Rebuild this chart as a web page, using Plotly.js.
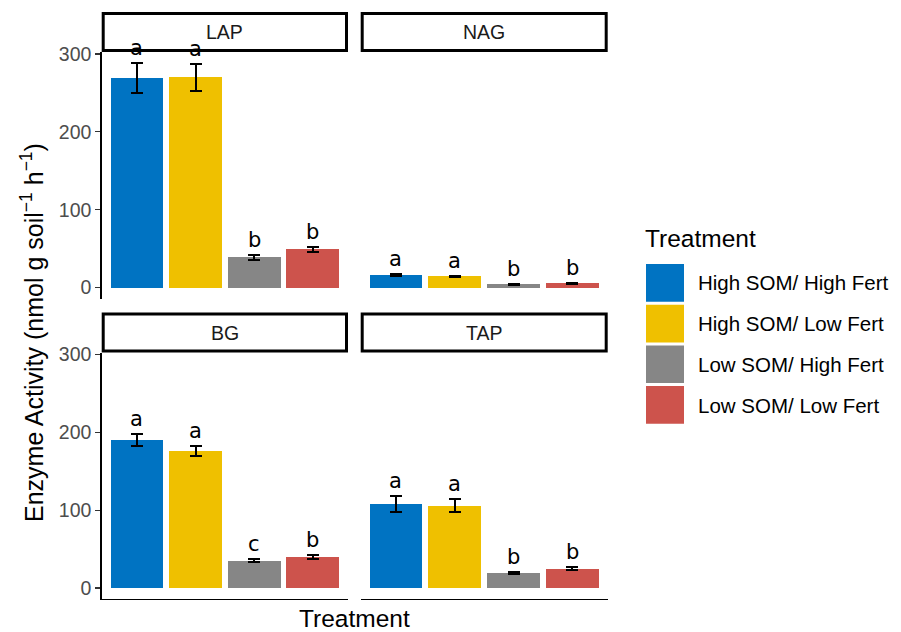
<!DOCTYPE html>
<html>
<head>
<meta charset="utf-8">
<script src="https://cdn.plot.ly/plotly-3.0.1.min.js"></script>
<style>
  html, body { margin: 0; padding: 0; background: #ffffff; }
  #chart { width: 901px; height: 632px; }
</style>
</head>
<body>
<div id="chart"></div>
<script>
// Treatments (bar order inside every facet) and their fill colours
const treatments = ["High SOM/ High Fert", "High SOM/ Low Fert", "Low SOM/ High Fert", "Low SOM/ Low Fert"];
const treatmentColors = ["#0073C2", "#EFC000", "#868686", "#CD534C"];

// Facets
const enzymes = ["LAP", "NAG", "BG", "TAP"];

// Mean activity (nmol g soil-1 h-1) per treatment
const lapMean = [269, 270, 39, 49];
const nagMean = [15.8, 14.5, 4.2, 5.5];
const bgMean  = [190, 176, 35, 40];
const tapMean = [108, 105.5, 19.2, 24.7];

// Standard errors
const lapSE = [19.5, 17, 3, 3.4];
const nagSE = [1.3, 1, 1, 1];
const bgSE  = [7.7, 7, 1.9, 2.6];
const tapSE = [9.8, 8.3, 1.7, 2.1];

// Significance letters
const lapLetters = ["a", "a", "b", "b"];
const nagLetters = ["a", "a", "b", "b"];
const bgLetters  = ["a", "a", "c", "b"];
const tapLetters = ["a", "a", "b", "b"];

const yTicks = [0, 100, 200, 300];

const means   = [lapMean, nagMean, bgMean, tapMean];
const ses     = [lapSE, nagSE, bgSE, tapSE];
const letters = [lapLetters, nagLetters, bgLetters, tapLetters];

// ---- layout helpers (pixel -> paper fractions) ----
const W = 901, H = 632;
const fx = x => x / W;
const fy = y => 1 - y / H;

// panel boxes in pixels: [left, right, top, bottom]
const panels = [
  [101.7, 348.0, 52.0, 298.5],
  [360.7, 607.7, 52.0, 298.5],
  [101.7, 348.0, 352.5, 599.0],
  [360.7, 607.7, 352.5, 599.0]
];
const stripH = 40;
const yRange = [-14, 302.5];

const sansFont = "Liberation Sans, Arial, Helvetica, sans-serif";
const dejaFont = "DejaVu Sans, sans-serif";
const titleSize = 24.5;
const textSize = 19.5;

const traces = [];
const layout = {
  width: W, height: H,
  margin: {l: 0, r: 0, t: 0, b: 0},
  paper_bgcolor: "#ffffff",
  plot_bgcolor: "rgba(0,0,0,0)",
  showlegend: false,
  hovermode: false,
  bargap: 0,
  shapes: [],
  annotations: []
};

enzymes.forEach((enz, i) => {
  const n = i === 0 ? "" : String(i + 1);
  const [x0, x1, y0, y1] = panels[i];
  const leftCol = (i % 2 === 0);
  const bottomRow = (i >= 2);

  layout["xaxis" + n] = {
    domain: [fx(x0), fx(x1)],
    anchor: "y" + n,
    type: "category",
    categoryorder: "array",
    categoryarray: treatments,
    range: [-0.6, 3.6],
    showticklabels: false,
    ticks: "",
    showgrid: false,
    zeroline: false,
    showline: bottomRow,
    linecolor: "#000000",
    linewidth: 1.4,
    fixedrange: true
  };
  layout["yaxis" + n] = {
    domain: [fy(y1), fy(y0)],
    anchor: "x" + n,
    range: yRange,
    tickvals: yTicks,
    ticktext: yTicks.map(String),
    showticklabels: leftCol,
    ticks: leftCol ? "outside" : "",
    ticklen: 5,
    tickwidth: 1.2,
    tickcolor: "#333333",
    tickfont: {family: sansFont, size: textSize, color: "#4d4d4d"},
    showgrid: false,
    zeroline: false,
    showline: leftCol,
    linecolor: "#000000",
    linewidth: 1.4,
    fixedrange: true
  };

  traces.push({
    type: "bar",
    x: treatments,
    y: means[i],
    width: 0.9,
    marker: {color: treatmentColors, line: {width: 0}},
    error_y: {type: "data", array: ses[i], visible: true, color: "#000000", thickness: 2, width: 6},
    xaxis: "x" + n,
    yaxis: "y" + n,
    hoverinfo: "skip"
  });

  // facet strip
  layout.shapes.push({
    type: "rect", xref: "paper", yref: "paper",
    x0: fx(x0 + 1.5), x1: fx(x1 - 1.5),
    y0: fy(y0 - 1.5), y1: fy(y0 - stripH + 1.5),
    line: {color: "#000000", width: 3},
    fillcolor: "#ffffff",
    layer: "below"
  });
  layout.annotations.push({
    xref: "paper", yref: "paper",
    x: fx((x0 + x1) / 2), y: fy(y0 - stripH / 2),
    text: enz, showarrow: false,
    xanchor: "center", yanchor: "middle",
    font: {family: sansFont, size: textSize, color: "#1a1a1a"}
  });

  // significance letters above the error bars
  treatments.forEach((t, k) => {
    layout.annotations.push({
      xref: "x" + n, yref: "y" + n,
      x: t, y: means[i][k] + ses[i][k],
      text: letters[i][k], showarrow: false,
      xanchor: "center", yanchor: "bottom",
      yshift: 1,
      font: {family: dejaFont, size: 21, color: "#000000"}
    });
  });
});

// axis titles
layout.annotations.push({
  xref: "paper", yref: "paper",
  x: fx((101.7 + 607.7) / 2), y: 0,
  text: "Treatment", showarrow: false,
  xanchor: "center", yanchor: "bottom",
  yshift: -2,
  font: {family: sansFont, size: titleSize, color: "#000000"}
});
layout.annotations.push({
  xref: "paper", yref: "paper",
  x: fx(32), y: fy(333),
  text: "Enzyme Activity (nmol g soil<sup>\u22121</sup> h<sup>\u22121</sup>)",
  textangle: -90, showarrow: false,
  xanchor: "center", yanchor: "middle",
  font: {family: sansFont, size: 25, color: "#000000"}
});

// legend: title, colour keys, labels
layout.annotations.push({
  xref: "paper", yref: "paper",
  x: fx(643), y: fy(238),
  text: "Treatment", showarrow: false,
  xanchor: "left", yanchor: "middle",
  font: {family: sansFont, size: titleSize, color: "#000000"}
});
treatments.forEach((t, k) => {
  const top = 264 + k * 40.7;
  layout.shapes.push({
    type: "rect", xref: "paper", yref: "paper",
    x0: fx(646), x1: fx(684), y0: fy(top + 37.7), y1: fy(top),
    line: {width: 0}, fillcolor: treatmentColors[k]
  });
  layout.annotations.push({
    xref: "paper", yref: "paper",
    x: fx(696), y: fy(top + 19),
    text: t, showarrow: false,
    xanchor: "left", yanchor: "middle",
    font: {family: sansFont, size: 20.5, color: "#000000"}
  });
});

Plotly.newPlot("chart", traces, layout, {staticPlot: true, displayModeBar: false});
</script>
</body>
</html>
